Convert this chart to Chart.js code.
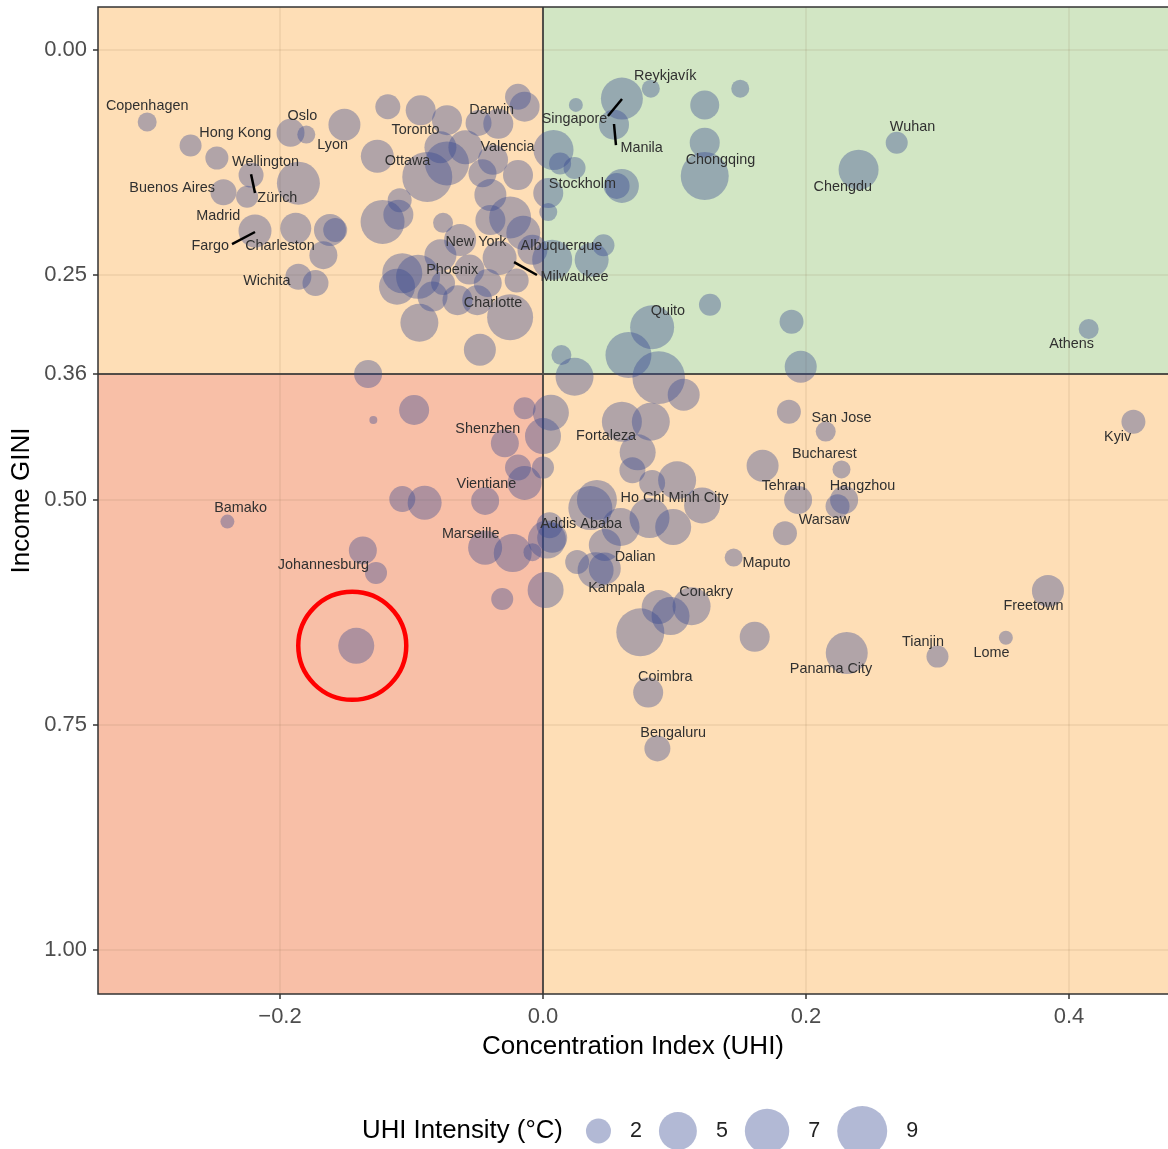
<!DOCTYPE html>
<html><head><meta charset="utf-8">
<script src="https://cdn.jsdelivr.net/npm/chart.js@4.4.1/dist/chart.umd.min.js"></script>
<style>html,body{margin:0;padding:0;background:#fff;overflow:hidden}#wrap{width:1168px;height:1149px;position:relative}</style>
</head><body><div id="wrap"><canvas id="c" width="1168" height="1149"></canvas></div>
<script>
// ---- data ----
const cityX = [-0.301,-0.268,-0.248,-0.243,-0.222,-0.225,-0.219,-0.192,-0.180,-0.151,
 -0.186,-0.188,-0.167,-0.162,-0.158,-0.186,-0.173,-0.126,-0.118,-0.093,
 -0.073,-0.049,-0.034,-0.019,-0.014,-0.078,-0.088,-0.073,-0.059,-0.038,
 -0.046,-0.019,-0.025,-0.122,-0.110,-0.109,-0.076,-0.063,-0.040,-0.015,
 -0.033,-0.107,-0.095,-0.111,-0.084,-0.094,-0.065,-0.050,-0.025,-0.048,
 -0.133,-0.076,-0.020,-0.008,-0.040,-0.078,-0.056,-0.042,
 0.060,0.082,0.025,0.054,0.123,0.150,0.123,0.123,0.060,0.056,
 0.008,0.013,0.024,0.004,0.004,0.046,0.037,0.007,0.269,0.240,
 0.415,0.189,0.196,0.083,0.127,0.065,0.014,0.024,
 -0.098,-0.129,-0.014,0.006,0.000,-0.029,-0.019,0.000,-0.014,-0.107,
 -0.090,-0.044,0.005,0.003,-0.044,-0.023,-0.008,-0.137,-0.127,0.002,
 -0.031,-0.240,-0.142,
 0.088,0.107,0.060,0.082,0.072,0.068,0.083,0.102,0.121,0.041,
 0.036,0.081,0.099,0.059,0.007,0.047,0.026,0.047,0.040,0.187,
 0.167,0.184,0.145,0.215,0.449,0.227,0.194,0.229,0.224,0.384,
 0.352,0.300,0.231,0.161,0.088,0.097,0.113,0.074,0.080,0.087];
const giniY = [0.080,0.106,0.120,0.158,0.139,0.163,0.201,0.092,0.094,0.083,
 0.148,0.198,0.228,0.200,0.200,0.252,0.259,0.118,0.063,0.067,
 0.078,0.081,0.082,0.052,0.063,0.108,0.141,0.126,0.108,0.122,
 0.137,0.139,0.186,0.191,0.183,0.167,0.192,0.211,0.189,0.203,
 0.231,0.248,0.252,0.263,0.274,0.303,0.278,0.278,0.297,0.333,
 0.360,0.259,0.256,0.222,0.161,0.228,0.244,0.259,
 0.054,0.043,0.061,0.083,0.061,0.043,0.103,0.140,0.151,0.151,
 0.111,0.126,0.131,0.159,0.180,0.217,0.233,0.233,0.103,0.133,
 0.310,0.302,0.352,0.308,0.283,0.339,0.339,0.363,
 0.400,0.411,0.398,0.403,0.429,0.437,0.464,0.464,0.481,0.499,
 0.503,0.501,0.528,0.544,0.553,0.559,0.558,0.556,0.581,0.600,
 0.610,0.524,0.662,
 0.364,0.383,0.413,0.413,0.447,0.467,0.481,0.478,0.506,0.500,
 0.509,0.520,0.530,0.530,0.542,0.550,0.569,0.576,0.578,0.402,
 0.462,0.537,0.564,0.424,0.413,0.466,0.500,0.500,0.507,0.601,
 0.653,0.674,0.670,0.652,0.619,0.629,0.618,0.647,0.714,0.776];
const uhiIntensity = [1.07,1.50,1.66,2.18,2.00,1.50,3.69,2.57,0.94,3.45,
 6.53,3.22,2.57,3.45,1.82,2.18,2.18,3.69,2.00,3.00,
 3.00,2.18,3.00,2.18,3.00,3.45,9.00,6.86,3.94,3.00,
 2.57,3.00,6.21,6.86,3.00,1.82,1.20,3.45,3.00,3.94,
 3.94,5.60,6.86,4.46,3.00,5.01,3.00,3.00,7.54,3.45,
 2.57,1.82,1.82,3.00,3.45,3.45,3.00,2.57,
 6.21,0.94,0.51,3.00,2.78,0.94,3.00,8.25,3.94,2.18,
 5.60,1.50,1.50,3.00,0.94,1.50,3.94,5.60,1.50,5.60,
 1.20,1.82,3.45,6.86,1.50,7.54,1.20,5.01,
 3.00,0.11,1.50,4.46,4.46,2.57,2.18,1.50,3.94,2.18,
 3.94,2.57,2.18,5.01,3.94,5.01,0.94,2.57,1.50,4.46,
 1.50,0.51,4.46,
 10.0,3.45,5.60,5.01,4.46,2.18,2.18,5.01,4.46,5.60,
 6.86,5.60,4.46,5.01,3.00,3.45,1.82,3.45,4.46,1.82,
 3.45,1.82,0.94,1.20,1.82,0.94,2.57,2.57,1.82,3.45,
 0.51,1.50,6.21,3.00,3.94,5.01,5.01,8.25,3.00,2.18];
const highlightIndex = 108;

const labelNames = ["Copenhagen","Hong Kong","Oslo","Lyon","Wellington","Buenos Aires","Zürich","Madrid","Fargo","Charleston","Wichita",
 "Toronto","Ottawa","Darwin","Valencia","Singapore","Reykjavík","Manila","Chongqing","Wuhan","Chengdu","Stockholm",
 "New York","Albuquerque","Phoenix","Milwaukee","Charlotte","Quito","Athens","San Jose","Kyiv","Shenzhen","Fortaleza",
 "Bucharest","Tehran","Hangzhou","Vientiane","Ho Chi Minh City","Bamako","Warsaw","Addis Ababa","Marseille","Dalian",
 "Johannesburg","Maputo","Kampala","Conakry","Freetown","Tianjin","Lome","Panama City","Coimbra","Bengaluru"];
const labelX = [-0.301,-0.234,-0.183,-0.160,-0.211,-0.282,-0.202,-0.247,-0.253,-0.200,-0.210,
 -0.097,-0.103,-0.039,-0.027,0.024,0.093,0.075,0.135,0.281,0.228,0.030,
 -0.051,0.014,-0.069,0.024,-0.038,0.095,0.402,0.227,0.437,-0.042,0.048,
 0.214,0.183,0.243,-0.043,0.100,-0.230,0.214,0.029,-0.055,0.070,
 -0.167,0.170,0.056,0.124,0.373,0.289,0.341,0.219,0.093,0.099];
const labelY = [0.062,0.092,0.073,0.106,0.124,0.153,0.164,0.184,0.218,0.218,0.257,
 0.089,0.123,0.067,0.108,0.077,0.029,0.109,0.122,0.086,0.152,0.149,
 0.213,0.218,0.244,0.252,0.281,0.290,0.327,0.409,0.430,0.421,0.429,
 0.449,0.484,0.484,0.482,0.498,0.509,0.522,0.527,0.538,0.563,
 0.572,0.570,0.598,0.602,0.618,0.658,0.670,0.688,0.697,0.759];
// leader segments: [x1, y1, x2, y2]
const leaderLines = [[-0.222,0.138,-0.219,0.159],[-0.2365,0.2156,-0.219,0.2022],[-0.022,0.2356,-0.0046,0.250],
 [0.0494,0.0733,0.0601,0.0544],[0.054,0.0822,0.0555,0.1056]];

const xTicks = [-0.2, 0.0, 0.2, 0.4];
const yTicks = [0.00, 0.25, 0.36, 0.50, 0.75, 1.00];
const legendValues = [2, 5, 7, 9];
const giniThreshold = 0.36;
const ciThreshold = 0.0;

// ---- styles ----
const FONT = '"Liberation Sans", Arial, sans-serif';
const bubbleFill = 'rgba(52,72,145,0.38)';
const radiusFor = v => 1.36 + 7.88 * Math.sqrt(v);

const points = cityX.map((x, i) => ({x: x, y: giniY[i], r: radiusFor(uhiIntensity[i])}));

const deco = {
  id: 'deco',
  beforeDraw(chart) {
    const {ctx, chartArea: a, scales: {x, y}} = chart;
    const x0 = x.getPixelForValue(ciThreshold), y0 = y.getPixelForValue(giniThreshold);
    ctx.save();
    ctx.fillStyle = '#FEDEB6'; ctx.fillRect(a.left, a.top, x0 - a.left, y0 - a.top);
    ctx.fillStyle = '#D2E6C4'; ctx.fillRect(x0, a.top, a.right - x0, y0 - a.top);
    ctx.fillStyle = '#F8BFA7'; ctx.fillRect(a.left, y0, x0 - a.left, a.bottom - y0);
    ctx.fillStyle = '#FEDEB6'; ctx.fillRect(x0, y0, a.right - x0, a.bottom - y0);
    ctx.restore();
  },
  beforeDatasetsDraw(chart) {
    const {ctx, chartArea: a, scales: {x, y}} = chart;
    const x0 = x.getPixelForValue(ciThreshold), y0 = y.getPixelForValue(giniThreshold);
    ctx.save();
    ctx.strokeStyle = 'rgba(55,55,55,0.85)'; ctx.lineWidth = 2;
    ctx.beginPath(); ctx.moveTo(x0, a.top); ctx.lineTo(x0, a.bottom);
    ctx.moveTo(a.left, y0); ctx.lineTo(a.right, y0); ctx.stroke();
    ctx.restore();
  },
  afterDatasetsDraw(chart) {
    const {ctx, chartArea: a, scales: {x, y}} = chart;
    ctx.save();
    const hx = x.getPixelForValue(cityX[highlightIndex]) - 4, hy = y.getPixelForValue(giniY[highlightIndex]);
    ctx.strokeStyle = '#FF0000'; ctx.lineWidth = 4.5;
    ctx.beginPath(); ctx.arc(hx, hy, 54, 0, Math.PI * 2); ctx.stroke();
    ctx.strokeStyle = '#000'; ctx.lineWidth = 2.5; ctx.lineCap = 'butt';
    leaderLines.forEach(s => {
      ctx.beginPath();
      ctx.moveTo(x.getPixelForValue(s[0]), y.getPixelForValue(s[1]));
      ctx.lineTo(x.getPixelForValue(s[2]), y.getPixelForValue(s[3]));
      ctx.stroke();
    });
    ctx.fillStyle = '#303030'; ctx.font = '14.4px ' + FONT;
    ctx.textAlign = 'center'; ctx.textBaseline = 'middle';
    labelNames.forEach((n, i) => ctx.fillText(n, x.getPixelForValue(labelX[i]), y.getPixelForValue(labelY[i])));
    ctx.strokeStyle = '#333'; ctx.lineWidth = 1.5;
    ctx.strokeRect(a.left, a.top, a.right - a.left + 2, a.bottom - a.top);
    ctx.restore();
  },
  afterDraw(chart) {
    const ctx = chart.ctx;
    ctx.save();
    const cy = 1131;
    ctx.textBaseline = 'middle'; ctx.textAlign = 'left';
    ctx.fillStyle = '#000'; ctx.font = '25.8px ' + FONT;
    const title = 'UHI Intensity (°C)';
    ctx.fillText(title, 362, cy);
    let cur = 362 + ctx.measureText(title).width + 23;
    ctx.font = '21.5px ' + FONT;
    legendValues.forEach(v => {
      const r = radiusFor(v);
      const cx = cur + r;
      ctx.fillStyle = bubbleFill;
      ctx.beginPath(); ctx.arc(cx, cy, r, 0, Math.PI * 2); ctx.fill();
      const lx = cx + r + 19;
      ctx.fillStyle = '#222';
      ctx.fillText(String(v), lx, cy);
      cur = lx + ctx.measureText(String(v)).width + 17;
    });
    ctx.restore();
  }
};

new Chart(document.getElementById('c'), {
  type: 'bubble',
  data: {datasets: [{data: points, backgroundColor: bubbleFill, borderWidth: 0, hoverRadius: 0}]},
  options: {
    responsive: false, devicePixelRatio: 1, animation: false, events: [],
    layout: {autoPadding: false, padding: {left: 0, right: 0, top: 7, bottom: 87}},
    plugins: {legend: {display: false}, tooltip: {enabled: false}},
    scales: {
      x: {
        type: 'linear', min: -0.3384, max: 0.4753,
        afterBuildTicks: s => { s.ticks = xTicks.map(v => ({value: v})); },
        afterFit: s => { s.height = 68; s.paddingLeft = 0; s.paddingRight = 0; },
        ticks: {font: {size: 22, family: FONT}, color: '#4d4d4d', padding: 5,
          callback: v => v === 0 ? '0.0' : (v < 0 ? '\u2212' : '') + Math.abs(v).toFixed(1)},
        grid: {color: 'rgba(140,110,70,0.10)', lineWidth: 2, tickLength: 5, tickColor: '#333', tickWidth: 1.5},
        border: {display: false},
        title: {display: true, text: 'Concentration Index (UHI)', font: {size: 26, family: FONT}, color: '#000', padding: {top: 0, bottom: 0}}
      },
      y: {
        type: 'linear', reverse: true, min: -0.0478, max: 1.0489,
        afterBuildTicks: s => { s.ticks = yTicks.map(v => ({value: v})); },
        afterFit: s => { s.width = 98; s.paddingTop = 0; s.paddingBottom = 0; },
        ticks: {font: {size: 22, family: FONT}, color: '#4d4d4d', padding: 6,
          callback: v => Number(v).toFixed(2)},
        grid: {color: 'rgba(140,110,70,0.10)', lineWidth: 2, tickLength: 5, tickColor: '#333', tickWidth: 1.5},
        border: {display: false},
        title: {display: true, text: 'Income GINI', font: {size: 26, family: FONT}, color: '#000', padding: {top: 6, bottom: 0}}
      }
    }
  },
  plugins: [deco]
});
</script></body></html>
